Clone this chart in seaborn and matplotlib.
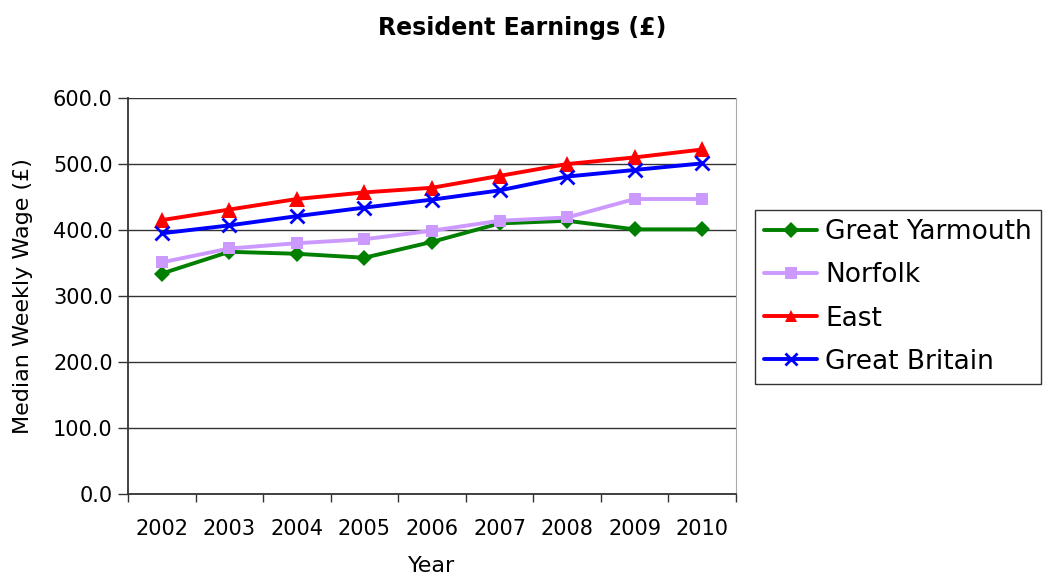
import matplotlib
matplotlib.use("Agg")
import matplotlib.pyplot as plt
import pandas as pd
import seaborn as sns
from matplotlib.ticker import FixedLocator, FormatStrFormatter

# Data
years = [2002, 2003, 2004, 2005, 2006, 2007, 2008, 2009, 2010]
great_yarmouth = [334, 367, 364, 358, 382, 410, 414, 401, 401]
norfolk = [351, 372, 380, 386, 399, 414, 419, 447, 447]
east = [415, 431, 447, 457, 464, 482, 500, 510, 522]
great_britain = [395, 407, 421, 434, 446, 460, 481, 491, 501]

series = {
    "Great Yarmouth": great_yarmouth,
    "Norfolk": norfolk,
    "East": east,
    "Great Britain": great_britain,
}
styles = {
    "Great Yarmouth": dict(color="#007F00", marker="D", markersize=8, mew=0),
    "Norfolk": dict(color="#CC99FF", marker="s", markersize=8, mew=0),
    "East": dict(color="#FF0000", marker="^", markersize=11, mew=0),
    "Great Britain": dict(color="#0000FF", marker="x", markersize=10, mew=2),
}

df = pd.DataFrame({"year": years, **series}).melt(id_vars="year", var_name="area", value_name="wage")

sns.set_style("white")
plt.rcParams["font.family"] = ["DejaVu Sans"]
plt.rcParams["text.color"] = "black"
plt.rcParams["axes.labelcolor"] = "black"
plt.rcParams["xtick.labelcolor"] = "black"
plt.rcParams["ytick.labelcolor"] = "black"

fig = plt.figure(figsize=(10.54, 5.81), dpi=100)
ax = fig.add_axes([0.1214, 0.1497, 0.5769, 0.6816])

for name in series:
    st = styles[name]
    sub = df[df["area"] == name]
    sns.lineplot(data=sub, x="year", y="wage", ax=ax, label=name, color=st["color"],
                 linewidth=2.8, marker=st["marker"], markersize=st["markersize"],
                 markeredgewidth=st["mew"], markeredgecolor=st["color"])

ax.set_xlim(2001.5, 2010.5)
ax.set_ylim(0, 600)
ax.set_yticks(range(0, 601, 100))
ax.yaxis.set_major_formatter(FormatStrFormatter("%.1f"))
ax.grid(axis="y", color="#333333", linewidth=1)
ax.set_axisbelow(True)

ax.set_xticks(years)
ax.set_xticklabels([str(y) for y in years])
ax.xaxis.set_minor_locator(FixedLocator([y + 0.5 for y in range(2001, 2011)]))
ax.tick_params(axis="x", which="major", length=0, pad=18, labelsize=15)
ax.tick_params(axis="x", which="minor", length=6, width=1, color="#333333", direction="out")
ax.tick_params(axis="y", which="major", length=7, width=1, color="#333333", direction="out",
               labelsize=15, pad=4)
ax.tick_params(bottom=True, left=True, which="both")

for side in ["left", "bottom"]:
    ax.spines[side].set_color("#333333")
    ax.spines[side].set_linewidth(1.3)
ax.spines["right"].set_color("#aaaaaa")
ax.spines["top"].set_visible(False)

ax.set_xlabel("Year", fontsize=16, labelpad=12)
ax.set_ylabel("Median Weekly Wage (£)", fontsize=16, labelpad=14)

fig.text(0.495, 0.952, "Resident Earnings (£)", ha="center", va="center",
         fontsize=17, fontweight="bold")

leg = ax.legend(loc="upper left", bbox_to_anchor=(755 / 1054, 1 - 210 / 581),
                bbox_transform=fig.transFigure, fontsize=19, frameon=True,
                fancybox=False, borderpad=0.35, labelspacing=0.65, handlelength=2.0,
                handletextpad=0.3, borderaxespad=0)
leg.get_frame().set_edgecolor("black")
leg.get_frame().set_linewidth(1)
for h in leg.legend_handles:
    h.set_markersize(8)

fig.savefig("out.png", dpi=100)
